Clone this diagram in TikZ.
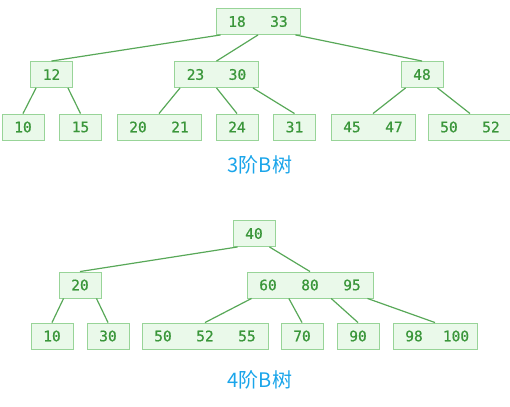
\documentclass[tikz,border=0pt]{standalone}
\usepackage{fontspec}
\newfontfamily\keyfont[FakeBold=0.6]{DejaVu Sans Mono}
\newfontfamily\cjk{Noto Sans CJK SC}
\usetikzlibrary{calc}
\definecolor{boxfill}{HTML}{EAF9EA}
\definecolor{boxline}{HTML}{98D498}
\definecolor{keytext}{HTML}{3A963A}
\definecolor{edgecol}{HTML}{58A858}
\definecolor{labelblue}{HTML}{1AA5EA}
\newcommand{\kc}[1]{\makebox[42pt]{#1}}
\tikzset{
  bnode/.style={draw=boxline, fill=boxfill, line width=0.9pt, inner sep=0pt,
    minimum height=26pt, text=keytext,
    font=\keyfont\fontsize{14.5}{14.5}\selectfont},
  edge/.style={draw=edgecol, line width=1.2pt},
  title/.style={text=labelblue, font=\cjk\fontsize{20}{20}\selectfont, inner sep=0pt}
}
\begin{document}
\begin{tikzpicture}[x=1pt,y=-1pt]
\useasboundingbox (0,0) rectangle (510,406);
% 3-order tree
\node[bnode] (r1) at (258,21.5) {\kc{18}\kc{33}};
\node[bnode] (a1) at (51.5,74.5) {\kc{12}};
\node[bnode] (a2) at (216.5,74.5) {\kc{23}\kc{30}};
\node[bnode] (a3) at (422,74.5) {\kc{48}};
\node[bnode] (l1) at (23,127) {\kc{10}};
\node[bnode] (l2) at (80.5,127) {\kc{15}};
\node[bnode] (l3) at (159,127) {\kc{20}\kc{21}};
\node[bnode] (l4) at (237,127) {\kc{24}};
\node[bnode] (l5) at (294.5,127) {\kc{31}};
\node[bnode] (l6) at (373,127) {\kc{45}\kc{47}};
\node[bnode] (l7) at (470,127) {\kc{50}\kc{52}};
\node[title] (t1) at (260,165) {3阶B树};
\draw[edge] ($(r1.south west)+(5,0)$) -- (a1.north);
\draw[edge] (r1.south) -- (a2.north);
\draw[edge] ($(r1.south east)+(-5,0)$) -- (a3.north);
\draw[edge] ($(a1.south west)+(6,0)$) -- (l1.north);
\draw[edge] ($(a1.south east)+(-5,0)$) -- (l2.north);
\draw[edge] ($(a2.south west)+(6,0)$) -- (l3.north);
\draw[edge] (a2.south) -- (l4.north);
\draw[edge] ($(a2.south east)+(-6,0)$) -- (l5.north);
\draw[edge] ($(a3.south west)+(5,0)$) -- (l6.north);
\draw[edge] ($(a3.south east)+(-6,0)$) -- (l7.north);
% 4-order tree
\node[bnode] (r2) at (254,233.5) {\kc{40}};
\node[bnode] (b1) at (80,285) {\kc{20}};
\node[bnode] (b2) at (310,285) {\kc{60}\kc{80}\kc{95}};
\node[bnode] (m1) at (52,336) {\kc{10}};
\node[bnode] (m2) at (108,336) {\kc{30}};
\node[bnode] (m3) at (205,336) {\kc{50}\kc{52}\kc{55}};
\node[bnode] (m4) at (302,336) {\kc{70}};
\node[bnode] (m5) at (358,336) {\kc{90}};
\node[bnode] (m6) at (435,336) {\kc{98}\kc{100}};
\node[title] (t2) at (260,380) {4阶B树};
\draw[edge] ($(r2.south west)+(5,0)$) -- (b1.north);
\draw[edge] ($(r2.south east)+(-6,0)$) -- (b2.north);
\draw[edge] ($(b1.south west)+(5,0)$) -- (m1.north);
\draw[edge] ($(b1.south east)+(-5,0)$) -- (m2.north);
\draw[edge] ($(b2.south west)+(5,0)$) -- (m3.north);
\draw[edge] ($(b2.south west)!0.3333!(b2.south east)$) -- (m4.north);
\draw[edge] ($(b2.south west)!0.6667!(b2.south east)$) -- (m5.north);
\draw[edge] ($(b2.south east)+(-6,0)$) -- (m6.north);
\end{tikzpicture}
\end{document}
